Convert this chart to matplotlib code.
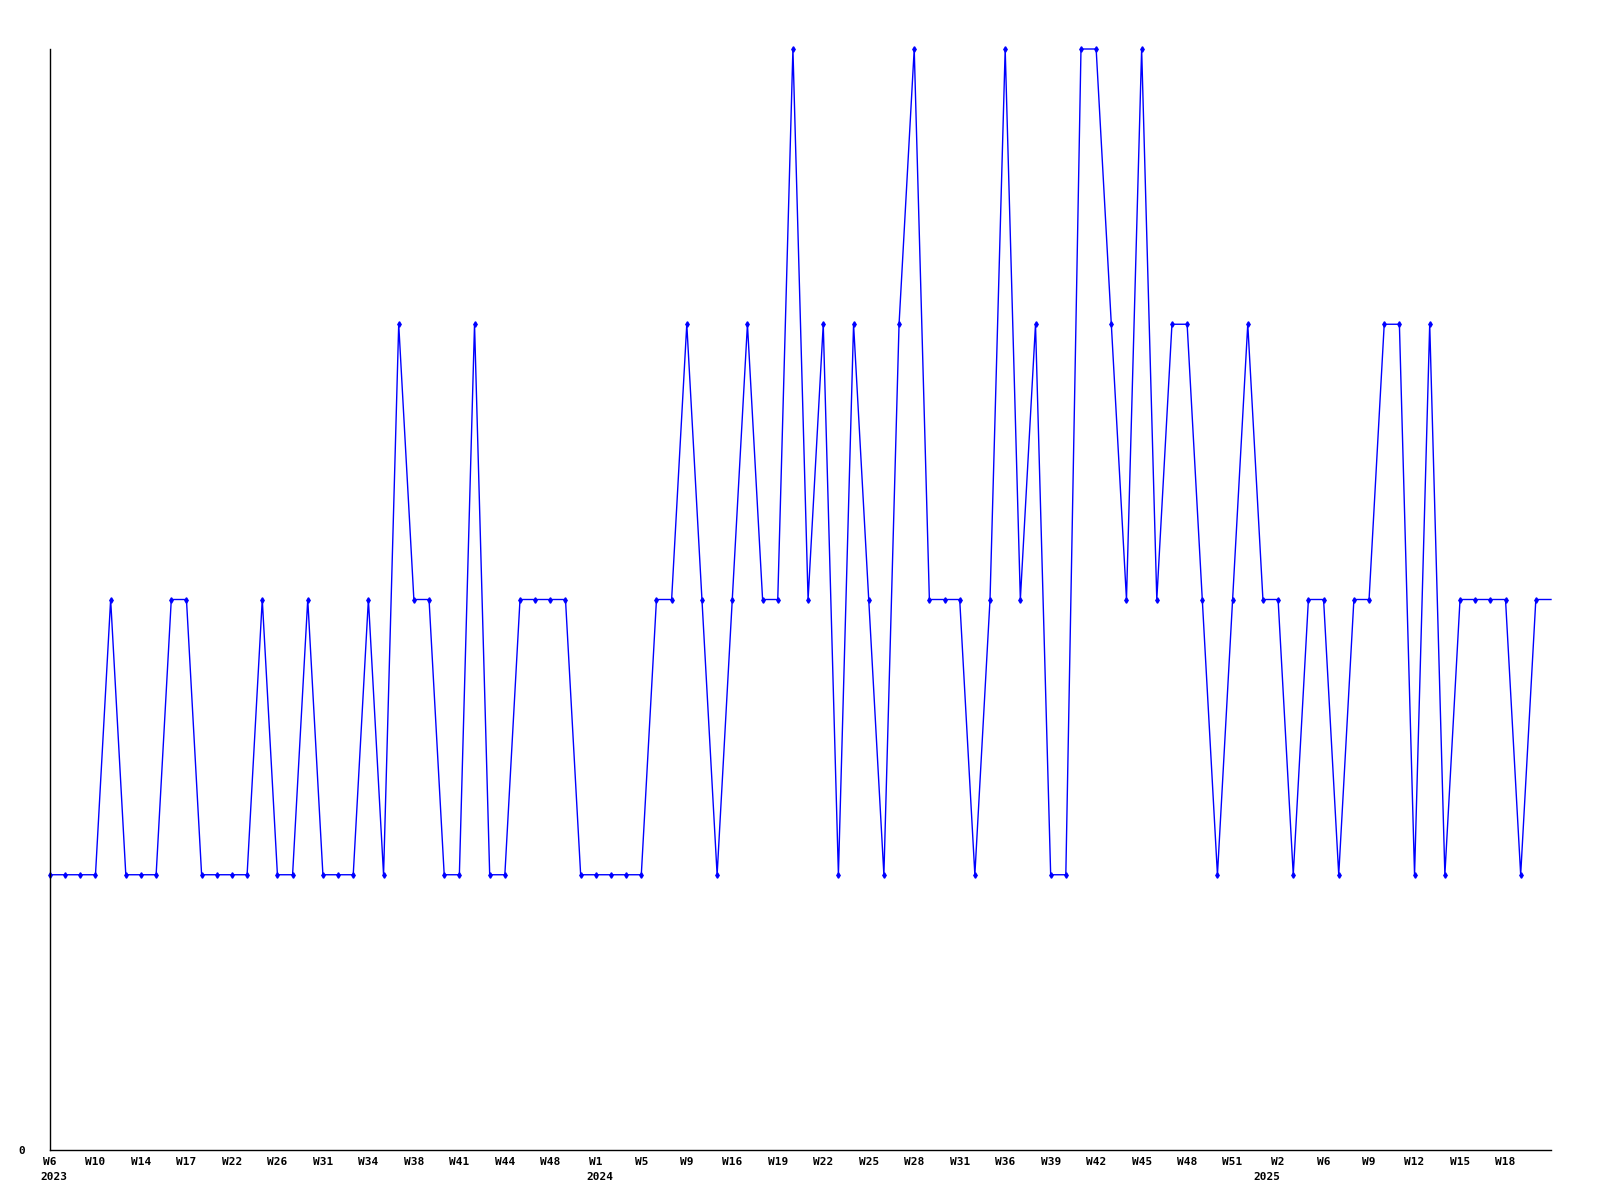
import matplotlib
matplotlib.use("Agg")
import matplotlib.pyplot as plt

# weekly values, one per point (last point has no marker in the original)
values = [1, 1, 1, 1, 2, 1, 1, 1, 2, 2,
          1, 1, 1, 1, 2, 1, 1, 2, 1, 1,
          1, 2, 1, 3, 2, 2, 1, 1, 3, 1,
          1, 2, 2, 2, 2, 1, 1, 1, 1, 1,
          2, 2, 3, 2, 1, 2, 3, 2, 2, 4,
          2, 3, 1, 3, 2, 1, 3, 4, 2, 2,
          2, 1, 2, 4, 2, 3, 1, 1, 4, 4,
          3, 2, 4, 2, 3, 3, 2, 1, 2, 3,
          2, 2, 1, 2, 2, 1, 2, 2, 3, 3,
          1, 3, 1, 2, 2, 2, 2, 1, 2, 2]

tick_idx = list(range(0, 97, 3))
tick_labels = ["W6", "W10", "W14", "W17", "W22", "W26", "W31", "W34", "W38",
               "W41", "W44", "W48", "W1", "W5", "W9", "W16", "W19", "W22",
               "W25", "W28", "W31", "W36", "W39", "W42", "W45", "W48", "W51",
               "W2", "W6", "W9", "W12", "W15", "W18"]

year_idx = [0, 36, 80]
year_labels = ["2023", "2024", "2025"]

x = list(range(len(values)))
font = dict(fontfamily="DejaVu Sans Mono", fontweight="bold", fontsize=8)

fig = plt.figure(figsize=(16, 12), dpi=100)
ax = fig.add_axes([50 / 1600, 1 - 1150 / 1200, 1501 / 1600, 1101 / 1200])

ax.plot(x, values, color="#0000ff", linewidth=1.0, marker="d", markersize=2.8,
        markevery=list(range(len(values) - 1)), clip_on=False)

ax.set_xlim(0, len(values) - 1)
ax.set_ylim(0, 4)

ax.spines["top"].set_visible(False)
ax.spines["right"].set_visible(False)
for s in ("left", "bottom"):
    ax.spines[s].set_linewidth(1.0)
    ax.spines[s].set_color("black")

ax.set_yticks([0])
ax.set_yticklabels(["0"], **font)
ax.set_xticks(tick_idx)
ax.set_xticklabels(tick_labels, **font)
ax.tick_params(axis="both", length=0)
ax.tick_params(axis="x", pad=5)
ax.tick_params(axis="y", pad=18)

# year labels on a second line below the week labels
for i, lab in zip(year_idx, year_labels):
    ax.annotate(lab, xy=(i, 0), xycoords=("data", "axes fraction"),
                xytext=(3, -16), textcoords="offset points",
                ha="center", va="top", **font)

fig.savefig("out.png", dpi=100)
